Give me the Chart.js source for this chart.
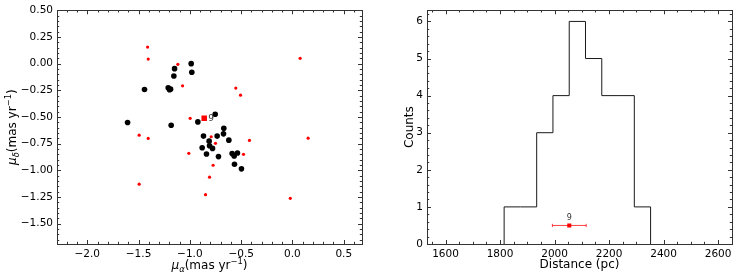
<!DOCTYPE html>
<html>
<head>
<meta charset="utf-8">
<script src="https://cdn.jsdelivr.net/npm/chart.js@4.4.1/dist/chart.umd.min.js"></script>
<style>
    html, body { margin: 0; padding: 0; background: #fff; }
    #wrap { position: relative; width: 739px; height: 278px; }
    .box { position: absolute; top: 0; height: 278px; }
    #boxL { left: 0; width: 370px; }
    #boxR { left: 370px; width: 369px; }
</style>
</head>
<body>
<div id="wrap">
    <div class="box" id="boxL"><canvas id="pmChart"></canvas></div>
    <div class="box" id="boxR"><canvas id="distChart"></canvas></div>
</div>
<script>
// proper motions of members (black) and field stars (red), mas/yr
const memberPmRa  = [-0.987, -1.149, -0.981, -1.156, -1.442, -1.211, -1.198, -1.188, -1.607, -1.182, -0.922, -0.753, -0.669, -0.672,
                     -0.867, -0.734, -0.812, -0.620, -0.808, -0.880, -0.779, -0.838, -0.721, -0.588, -0.568, -0.536, -0.565, -0.497];
const memberPmDec = [0.000, -0.047, -0.081, -0.115, -0.242, -0.226, -0.245, -0.239, -0.552, -0.577, -0.546, -0.474, -0.605, -0.658,
                     -0.679, -0.679, -0.726, -0.717, -0.769, -0.788, -0.794, -0.847, -0.871, -0.843, -0.865, -0.837, -0.943, -0.986];
const fieldPmRa  = [-1.412, -1.406, -1.117, -1.071, 0.075, -0.552, -0.506, -0.997, -1.494, -1.406, -0.792,
                    -0.750, -0.419, 0.153, -1.010, -0.477, -0.773, -0.808, -1.494, -0.847, -0.021];
const fieldPmDec = [0.155, 0.043, -0.006, -0.208, 0.050, -0.229, -0.295, -0.512, -0.670, -0.701, -0.685,
                    -0.747, -0.719, -0.698, -0.840, -0.850, -0.952, -1.064, -1.129, -1.228, -1.262];
const starLabel = ['9'];
const starPmRa = [-0.860];
const starPmDec = [-0.512];

const pmRaTicks = [-2.0, -1.5, -1.0, -0.5, 0.0, 0.5];
const pmDecTicks = [0.50, 0.25, 0.00, -0.25, -0.50, -0.75, -1.00, -1.25, -1.50];

// distance histogram
const binEdges = [1815, 1874.7, 1934.4, 1994.1, 2053.8, 2113.5, 2173.2, 2232.9, 2292.6, 2352.3];
const binCounts = [1, 1, 3, 4, 6, 5, 4, 4, 1];
const starDist = [2054];
const starDistErr = [62];
const starDistY = [0.5];

const distTicks = [1600, 1800, 2000, 2200, 2400, 2600];
const countTicks = [0, 1, 2, 3, 4, 5, 6];

Chart.defaults.font.family = '"DejaVu Sans", sans-serif';
Chart.defaults.font.size = 10.5;
Chart.defaults.color = '#000';

const FONT = '"DejaVu Sans"';

function fmt(v, d) {
    return (v < 0 ? '\u2212' : '') + Math.abs(v).toFixed(d);
}

// text with sub/superscripts: [text, size, style, dy]
function drawRich(ctx, parts, x, y, rotate) {
    ctx.save();
    ctx.translate(x, y);
    if (rotate) ctx.rotate(-Math.PI / 2);
    let w = 0;
    parts.forEach(p => { ctx.font = `${p[2]} ${p[1]}px ${FONT}`; w += ctx.measureText(p[0]).width; });
    let cx = -w / 2;
    ctx.fillStyle = '#000';
    ctx.textBaseline = 'alphabetic';
    parts.forEach(p => {
        ctx.font = `${p[2]} ${p[1]}px ${FONT}`;
        ctx.fillText(p[0], cx, p[3]);
        cx += ctx.measureText(p[0]).width;
    });
    ctx.restore();
}

// frame with inward major/minor ticks on all sides, plus axis titles
const framePlugin = {
    id: 'frame',
    afterDraw(chart, args, opts) {
        const { ctx, chartArea: a, scales: { x, y } } = chart;
        ctx.save();
        ctx.strokeStyle = '#333';
        ctx.lineWidth = 1;
        ctx.strokeRect(Math.round(a.left) + 0.5, Math.round(a.top) + 0.5,
            Math.round(a.right) - Math.round(a.left), Math.round(a.bottom) - Math.round(a.top));
        const seg = (x1, y1, x2, y2) => { ctx.beginPath(); ctx.moveTo(x1, y1); ctx.lineTo(x2, y2); ctx.stroke(); };
        const markX = (v, len) => {
            const p = Math.round(x.getPixelForValue(v)) + 0.5;
            if (p < a.left || p > a.right) return;
            seg(p, a.bottom, p, a.bottom - len);
            seg(p, a.top, p, a.top + len);
        };
        const markY = (v, len) => {
            const p = Math.round(y.getPixelForValue(v)) + 0.5;
            if (p < a.top - 1 || p > a.bottom + 1) return;
            seg(a.left, p, a.left + len, p);
            seg(a.right, p, a.right - len, p);
        };
        for (let v = Math.ceil(x.min / opts.xMinor) * opts.xMinor; v <= x.max; v += opts.xMinor) markX(v, 2.2);
        for (let v = Math.ceil(y.min / opts.yMinor) * opts.yMinor; v <= y.max + 1e-9; v += opts.yMinor) markY(v, 2.2);
        x.ticks.forEach(t => markX(t.value, 4));
        y.ticks.forEach(t => markY(t.value, 4));
        ctx.restore();

        const cxm = (a.left + a.right) / 2;
        const cym = (a.top + a.bottom) / 2;
        drawRich(ctx, opts.xTitle, cxm, opts.xTitleY, false);
        drawRich(ctx, opts.yTitle, opts.yTitleX, cym, true);
    }
};

// small numeric label next to the highlighted star
const starLabelPlugin = {
    id: 'starLabel',
    afterDatasetsDraw(chart, args, opts) {
        const meta = chart.getDatasetMeta(opts.datasetIndex);
        const ctx = chart.ctx;
        ctx.save();
        ctx.fillStyle = '#333';
        ctx.font = `${opts.size}px ${FONT}`;
        ctx.textAlign = 'center';
        ctx.textBaseline = 'middle';
        meta.data.forEach((pt, i) => {
            ctx.fillText(starLabel[i], pt.x + opts.dx, pt.y + opts.dy);
        });
        ctx.restore();
    }
};

const pts = (xs, ys) => xs.map((v, i) => ({ x: v, y: ys[i] }));

function pmTitle(sub) {
    return [['\u03bc', 12, 'italic', 0], [sub, 8.4, 'italic', 2.6], ['(mas yr', 12, 'normal', 0],
            ['\u22121', 8.4, 'normal', -4.8], [')', 12, 'normal', 0]];
}

function initCharts() {
    // 1. proper motion diagram
    new Chart(document.getElementById('pmChart'), {
        type: 'scatter',
        data: {
            datasets: [
                {
                    data: pts(starPmRa, starPmDec),
                    pointStyle: 'rect',
                    pointRadius: 3.9,
                    backgroundColor: '#ff0000',
                    borderWidth: 0
                },
                {
                    data: pts(fieldPmRa, fieldPmDec),
                    pointRadius: 1.6,
                    backgroundColor: '#ff0000',
                    borderWidth: 0
                },
                {
                    data: pts(memberPmRa, memberPmDec),
                    pointRadius: 2.8,
                    backgroundColor: '#000',
                    borderWidth: 0
                }
            ]
        },
        options: {
            responsive: true,
            maintainAspectRatio: false,
            animation: false,
            devicePixelRatio: 1,
            layout: { padding: { top: 9, right: 8, left: 0, bottom: 0 } },
            plugins: {
                legend: { display: false },
                tooltip: { enabled: false },
                frame: {
                    xMinor: 0.1, yMinor: 0.05,
                    xTitle: pmTitle('\u03b1'), yTitle: pmTitle('\u03b4'),
                    xTitleY: 269, yTitleX: 16
                },
                starLabel: { datasetIndex: 0, dx: 7, dy: 0, size: 9 }
            },
            scales: {
                x: {
                    type: 'linear', min: -2.295, max: 0.678,
                    grid: { display: false, drawTicks: false },
                    border: { display: false },
                    afterBuildTicks: s => { s.ticks = pmRaTicks.map(v => ({ value: v })); },
                    afterFit: s => { s.height = 34; },
                    ticks: { padding: 4, autoSkip: false, maxRotation: 0, callback: v => fmt(v, 1) }
                },
                y: {
                    type: 'linear', min: -1.69, max: 0.5,
                    grid: { display: false, drawTicks: false },
                    border: { display: false },
                    afterBuildTicks: s => { s.ticks = pmDecTicks.map(v => ({ value: v })); },
                    afterFit: s => { s.width = 57; },
                    ticks: { padding: 4, autoSkip: false, callback: v => fmt(v, 2) }
                }
            }
        },
        plugins: [framePlugin, starLabelPlugin]
    });

    // 2. distance histogram
    const steps = [{ x: binEdges[0], y: 0 }];
    binCounts.forEach((c, i) => steps.push({ x: binEdges[i], y: c }));
    steps.push({ x: binEdges[binEdges.length - 1], y: 0 });

    new Chart(document.getElementById('distChart'), {
        type: 'scatter',
        data: {
            datasets: [
                {
                    data: pts(starDist, starDistY),
                    pointStyle: 'rect',
                    pointRadius: 2.9,
                    backgroundColor: '#ff0000',
                    borderWidth: 0
                },
                {
                    data: [{ x: starDist[0] - starDistErr[0], y: starDistY[0] }, { x: starDist[0] + starDistErr[0], y: starDistY[0] }],
                    showLine: true,
                    borderColor: 'rgba(255,0,0,0.75)',
                    borderWidth: 1,
                    pointStyle: 'line',
                    rotation: 90,
                    pointRadius: 1.6,
                    pointBorderColor: 'rgba(255,0,0,0.75)',
                    pointBorderWidth: 1
                },
                {
                    data: steps,
                    showLine: true,
                    stepped: true,
                    borderColor: '#1a1a1a',
                    borderWidth: 1,
                    pointRadius: 0
                }
            ]
        },
        options: {
            responsive: true,
            maintainAspectRatio: false,
            animation: false,
            devicePixelRatio: 1,
            layout: { padding: { top: 9, right: 7, left: 0, bottom: 0 } },
            plugins: {
                legend: { display: false },
                tooltip: { enabled: false },
                frame: {
                    xMinor: 50, yMinor: 0.2,
                    xTitle: [['Distance (pc)', 12, 'normal', 0]],
                    yTitle: [['Counts', 12, 'normal', 0]],
                    xTitleY: 268, yTitleX: 43
                },
                starLabel: { datasetIndex: 0, dx: 0, dy: -8, size: 8 }
            },
            scales: {
                x: {
                    type: 'linear', min: 1532, max: 2651,
                    grid: { display: false, drawTicks: false },
                    border: { display: false },
                    afterBuildTicks: s => { s.ticks = distTicks.map(v => ({ value: v })); },
                    afterFit: s => { s.height = 34; },
                    ticks: { padding: 4, autoSkip: false, maxRotation: 0, callback: v => String(v) }
                },
                y: {
                    type: 'linear', min: 0, max: 6.3,
                    grid: { display: false, drawTicks: false },
                    border: { display: false },
                    afterBuildTicks: s => { s.ticks = countTicks.map(v => ({ value: v })); },
                    afterFit: s => { s.width = 57; },
                    ticks: { padding: 4, autoSkip: false, callback: v => String(v) }
                }
            }
        },
        plugins: [framePlugin, starLabelPlugin]
    });
}

initCharts();
</script>
</body>
</html>
